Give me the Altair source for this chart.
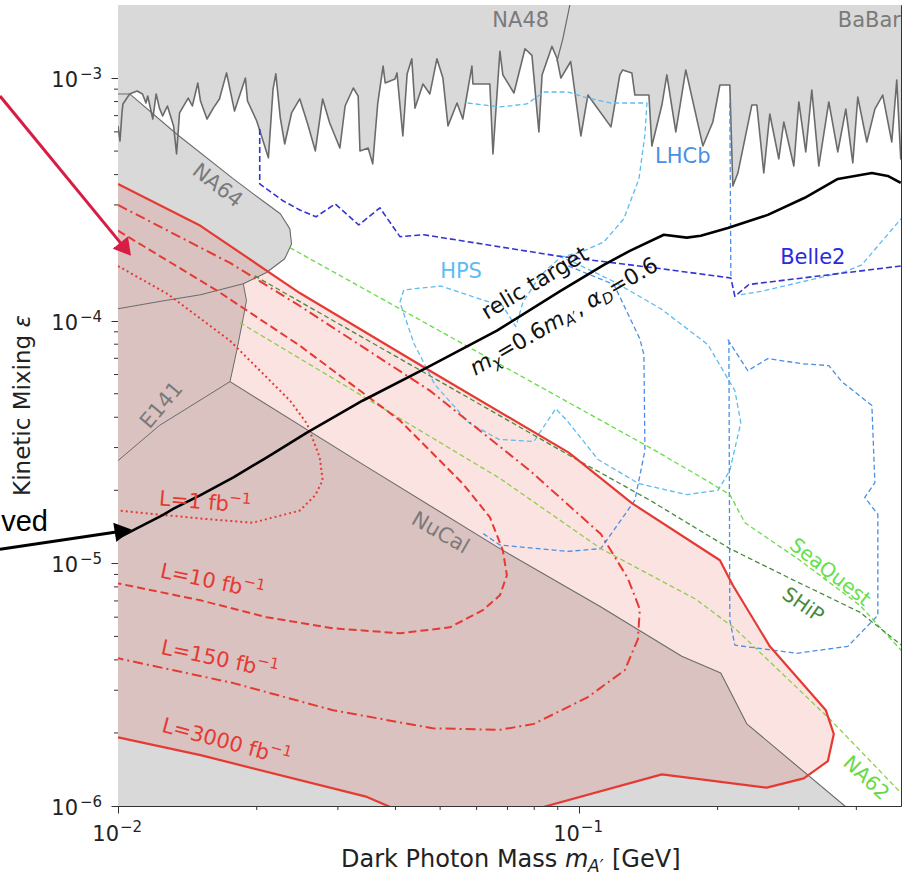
import altair as alt
import pandas as pd

# ---------------- data: (dark photon mass [GeV], kinetic mixing epsilon) ----------------
X_DOMAIN = [0.01, 0.5]
Y_DOMAIN = [1e-6, 2e-3]

babar = [(0.0100,6.35e-4),(0.0101,5.50e-4),(0.0102,7.18e-4),(0.01025,7.82e-4),(0.0106,8.60e-4),(0.0110,8.84e-4),
 (0.0113,8.60e-4),(0.0115,7.89e-4),(0.0116,8.43e-4),(0.0119,6.78e-4),(0.0121,8.60e-4),(0.0123,7.52e-4),(0.0125,6.98e-4),
 (0.0128,7.67e-4),(0.0132,6.35e-4),(0.0134,4.87e-4),(0.0136,7.18e-4),(0.0142,8.27e-4),(0.0145,7.67e-4),(0.0149,9.54e-4),
 (0.0151,8.04e-4),(0.0156,6.78e-4),(0.0161,7.52e-4),(0.0166,8.20e-4),(0.0172,1.05e-3),(0.0179,7.31e-4),(0.0189,1.00e-3),
 (0.0191,8.04e-4),(0.0200,6.65e-4),(0.0212,4.69e-4),(0.0217,9.01e-4),(0.0220,1.04e-3),(0.0225,6.85e-4),(0.0230,5.35e-4),
 (0.0238,7.18e-4),(0.0248,8.20e-4),(0.0258,6.47e-4),(0.0268,5.01e-4),(0.0278,8.20e-4),(0.0288,6.53e-4),(0.0303,5.15e-4),
 (0.0311,7.67e-4),(0.0324,9.10e-4),(0.0332,8.43e-4),(0.0335,5.01e-4),(0.0349,5.15e-4),(0.0357,4.43e-4),(0.0366,7.82e-4),
 (0.0376,1.12e-3),(0.0380,9.54e-4),(0.0399,9.91e-4),(0.0403,1.05e-3),(0.0415,5.77e-4),(0.0424,1.04e-3),(0.0434,1.20e-3),
 (0.0441,7.52e-4),(0.0459,9.45e-4),(0.0475,8.60e-4),(0.0492,1.20e-3),(0.0507,1.00e-3),(0.0520,6.35e-4),(0.0544,7.89e-4),
 (0.0560,6.78e-4),(0.0586,1.12e-3),(0.0589,9.45e-4),(0.0641,9.45e-4),(0.0651,4.87e-4),(0.0674,1.29e-3),(0.0684,1.03e-3),
 (0.0723,8.68e-4),(0.0764,1.32e-3),(0.0791,1.24e-3),(0.0819,6.00e-4),(0.0832,1.03e-3),(0.0874,1.35e-3),(0.0896,1.21e-3),
 (0.0914,1.00e-3),(0.0960,1.17e-3),(0.1010,5.77e-4),(0.1046,8.51e-4),(0.1174,6.29e-4),(0.1227,1.03e-3),(0.1245,1.08e-3),
 (0.1303,1.05e-3),(0.1323,8.51e-4),(0.1419,8.51e-4),(0.1440,5.25e-4),(0.1514,7.74e-4),(0.1552,1.03e-3),(0.1623,6.00e-4),
 (0.1706,1.08e-3),(0.1858,5.25e-4),(0.1953,6.59e-4),(0.2023,9.36e-4),(0.2126,9.36e-4),(0.2158,3.59e-4),(0.2213,4.06e-4),
 (0.2373,7.74e-4),(0.2433,7.74e-4),(0.2519,4.06e-4),(0.2596,7.11e-4),(0.2715,4.64e-4),(0.2784,6.59e-4),(0.2927,4.34e-4),
 (0.3001,7.97e-4),(0.3107,4.96e-4),(0.3202,8.93e-4),(0.3316,4.34e-4),(0.3486,7.97e-4),(0.3646,4.96e-4),(0.3795,7.45e-4),
 (0.3930,4.47e-4),(0.4029,8.35e-4),(0.4215,5.45e-4),(0.4388,7.45e-4),(0.4564,8.51e-4),(0.4775,5.45e-4),(0.4895,9.81e-4),
 (0.4994,4.64e-4),(0.5,5.0e-4)]
top_corners = [(0.5, 2.2e-3), (0.01, 2.2e-3)]

na48 = [(0.0896,1.17e-3),(0.0923,1.45e-3),(0.0956,2.0e-3)]

na64 = [(0.0100,8.60e-4),(0.0106,8.60e-4),(0.0134,5.88e-4),(0.0178,3.84e-4),(0.0206,3.12e-4),(0.0225,2.76e-4),
 (0.0236,2.39e-4),(0.0238,2.07e-4),(0.0230,1.80e-4),(0.0210,1.58e-4),(0.0187,1.42e-4),(0.0151,1.28e-4),(0.0123,1.20e-4),
 (0.0100,1.12e-4)]

e141_edge = [(0.0187,1.42e-4),(0.0190,1.21e-4),(0.0187,1.03e-4),(0.0181,7.52e-5),(0.0175,5.61e-5)]
nucal = [(0.0175,5.61e-5),(0.0335,2.60e-5),(0.0674,1.15e-5),(0.1110,6.65e-6),(0.1672,4.14e-6),(0.2032,3.53e-6),
 (0.2314,2.18e-6),(0.3776,1.0e-6),(0.407,8.76e-7)]
e141_low = [(0.0100,2.65e-5),(0.0123,3.70e-5),(0.0175,5.61e-5)]
lowleft_start = [(0.0100,1.12e-4),(0.0151,1.28e-4)]
lowleft_end = [(0.01,8.76e-7)]

l3000 = [(0.0100,3.66e-4),(0.0151,2.46e-4),(0.0248,1.30e-4),(0.0475,6.22e-5),(0.0951,2.86e-5),(0.1303,1.77e-5),
 (0.2023,1.03e-5),(0.2158,8.12e-6),(0.2596,4.55e-6),(0.3435,2.48e-6),(0.3574,1.98e-6),(0.3469,1.53e-6),(0.3076,1.30e-6),
 (0.2557,1.19e-6),(0.1514,1.35e-6),(0.0852,1.0e-6),(0.0674,8.76e-7),(0.0452,8.76e-7),(0.0347,1.09e-6),(0.0151,1.62e-6),
 (0.0100,1.92e-6)]
l150 = [(0.0100,3.00e-4),(0.0175,1.73e-4),(0.0248,1.15e-4),(0.0475,5.15e-5),(0.0783,2.41e-5),(0.1116,1.32e-5),
 (0.1277,8.68e-6),(0.1356,6.47e-6),(0.1343,4.87e-6),(0.1258,3.63e-6),(0.1046,2.81e-6),(0.0799,2.18e-6),(0.0674,2.06e-6),
 (0.0482,2.09e-6),(0.0293,2.48e-6),(0.0178,3.21e-6),(0.0100,4.06e-6)]
l10 = [(0.0100,2.35e-4),(0.0164,1.33e-4),(0.0248,7.89e-5),(0.0409,3.88e-5),(0.0560,2.13e-5),(0.0641,1.55e-5),
 (0.0684,1.13e-5),(0.0698,8.93e-6),(0.0674,7.38e-6),(0.0619,6.41e-6),(0.0525,5.45e-6),(0.0409,5.15e-6),(0.0293,5.40e-6),
 (0.0210,6.00e-6),(0.0151,7.04e-6),(0.0100,8.27e-6)]
l1 = [(0.0100,1.68e-4),(0.0128,1.29e-4),(0.0175,8.27e-5),(0.0236,4.69e-5),(0.0257,3.77e-5),(0.0274,2.73e-5),
 (0.0278,2.20e-5),(0.0268,1.91e-5),(0.0248,1.65e-5),(0.0196,1.47e-5),(0.0151,1.53e-5),(0.0100,1.65e-5)]

seaquest = [(0.0236,2.00e-4),(0.0580,7.74e-5),(0.1426,3.00e-5),(0.1830,2.28e-5),(0.2126,1.92e-5),(0.2292,1.47e-5),
 (0.3016,1.03e-5),(0.4070,6.72e-6),(0.505,4.30e-6)]
ship = [(0.0198,1.53e-4),(0.0946,2.81e-5),(0.1426,1.82e-5),(0.2126,1.15e-5),(0.2869,8.68e-6),(0.4070,6.29e-6),
 (0.505,4.55e-6)]
na62 = [(0.0184,9.81e-5),(0.0674,2.24e-5),(0.1116,1.15e-5),(0.1794,7.11e-6),(0.2191,5.35e-6),(0.352,2.26e-6),
 (0.505,1.11e-6)]

belle2 = [(0.0203,6.17e-4),(0.0203,3.66e-4),(0.0228,3.12e-4),(0.0248,2.86e-4),(0.0269,2.68e-4),(0.0296,3.03e-4),
 (0.0333,2.48e-4),(0.0370,2.92e-4),(0.0409,2.22e-4),(0.0461,2.26e-4),(0.0896,1.85e-4),(0.1499,1.64e-4),(0.2137,1.50e-4),
 (0.2180,1.26e-4),(0.2338,1.41e-4),(0.4994,1.68e-4)]

hps = [(0.0574,7.89e-4),(0.0674,7.60e-4),(0.0771,7.82e-4),(0.0840,8.76e-4),(0.0946,8.76e-4),(0.1046,8.27e-4),
 (0.1174,7.89e-4),(0.1405,7.89e-4),(0.1391,5.83e-4),(0.1350,3.84e-4),(0.1252,2.63e-4),(0.1133,2.11e-4),(0.1005,1.91e-4),
 (0.0914,1.83e-4),(0.0823,1.53e-4),(0.0756,1.19e-4),(0.0730,9.45e-5),(0.0684,1.15e-4),(0.0616,1.22e-4),(0.0502,1.39e-4),
 (0.0417,1.34e-4),(0.0409,1.19e-4),(0.0439,8.04e-5),(0.0487,5.45e-5),(0.0577,3.80e-5),(0.0671,3.24e-5),(0.0799,3.18e-5),
 (0.0891,4.34e-5),(0.0942,3.88e-5),(0.1100,2.68e-5),(0.1350,2.13e-5),(0.1715,1.92e-5),(0.2003,2.00e-5),(0.2126,2.41e-5),
 (0.2246,3.80e-5),(0.2180,5.15e-5),(0.1905,7.97e-5),(0.1506,1.12e-4),(0.1191,1.45e-4),(0.0980,1.73e-4),(0.0914,1.83e-4)]
hps_right = [(0.2246,1.28e-4),(0.2482,1.32e-4),(0.3776,1.59e-4),(0.4111,1.70e-4),(0.502,2.65e-4)]

lhcb_top = [(0.2126,7.89e-4),(0.2137,1.49e-4)]
lhcb_mid = [(0.0914,1.73e-4),(0.1191,1.41e-4),(0.1356,8.43e-5),(0.1384,7.24e-5),(0.1391,2.92e-5),(0.1323,1.82e-5),
 (0.1116,1.15e-5),(0.0946,1.12e-5),(0.0674,1.19e-5),(0.0619,1.33e-5)]
lhcb_right = [(0.2105,8.35e-5),(0.2326,6.22e-5),(0.2570,6.98e-5),(0.3046,6.65e-5),(0.3486,6.53e-5),(0.3719,5.61e-5),
 (0.4323,4.47e-5),(0.4388,2.15e-5),(0.4173,1.87e-5),(0.4454,1.59e-5),(0.4454,6.11e-6),(0.3833,4.55e-6),(0.2971,4.26e-6),
 (0.2180,4.60e-6),(0.2126,5.83e-6),(0.2116,8.35e-5)]

relic = [(0.0100,1.27e-5),(0.0108,1.37e-5),(0.0125,1.58e-5),(0.0132,1.68e-5),(0.0151,1.91e-5),(0.0178,2.26e-5),
 (0.0210,2.73e-5),(0.0257,3.46e-5),(0.0340,4.69e-5),(0.0468,6.41e-5),(0.0664,9.10e-5),(0.0909,1.32e-4),(0.1133,1.70e-4),
 (0.1290,1.94e-4),(0.1529,2.26e-4),(0.1715,2.20e-4),(0.1839,2.24e-4),(0.2105,2.41e-4),(0.2570,2.73e-4),(0.3091,3.21e-4),
 (0.3646,3.84e-4),(0.4323,4.06e-4),(0.4680,3.95e-4),(0.4994,3.70e-4)]

label_text = ["NA48", "BaBar", "NA64", "E141", "NuCal", "HPS", "LHCb", "Belle2", "relic target",
              "SeaQuest", "SHiP", "NA62"]
label_m = [0.0748, 0.3646, 0.0164, 0.01246, 0.0500, 0.0555, 0.1681, 0.3218, 0.0803,
           0.3504, 0.3062, 0.4194]
label_e = [1.72e-3, 1.72e-3, 3.59e-4, 4.47e-5, 1.33e-5, 1.58e-4, 4.73e-4, 1.82e-4, 1.43e-4,
           9.18e-6, 6.72e-6, 1.30e-6]

# multi-part labels (main text, subscript/superscript pieces)
relic_formula = ("relic", 0.0928, 1.04e-4,
                 [("m", "i", 0), ("χ", "i", 1), ("=0.6", "n", 0), ("m", "i", 0), ("A′", "i", 1),
                  (", ", "n", 0), ("α", "i", 0), ("D", "i", 1), ("=0.6", "n", 0)])
lumi_labels = [("L=1 fb", "−1", 0.01544, 1.77e-5), ("L=10 fb", "−1", 0.0160, 8.35e-6),
               ("L=150 fb", "−1", 0.0166, 3.99e-6), ("L=3000 fb", "−1", 0.01716, 1.82e-6)]

red_arrow = [(0.005546, 8.43e-4), (0.01039, 1.972e-4)]
black_arrow = [(0.005546, 1.142e-5), (0.01026, 1.360e-5)]
side_text = ("ved", 0.00558, 1.354e-5)

x_major = [0.01, 0.1]
x_exp = ["−2", "−1"]
x_minor = [0.02, 0.03, 0.04, 0.05, 0.06, 0.07, 0.08, 0.09, 0.2, 0.3, 0.4]
y_major = [1e-6, 1e-5, 1e-4, 1e-3]
y_exp = ["−6", "−5", "−4", "−3"]
y_minor = [2e-6, 3e-6, 4e-6, 5e-6, 6e-6, 7e-6, 8e-6, 9e-6, 2e-5, 3e-5, 4e-5, 5e-5, 6e-5, 7e-5, 8e-5, 9e-5,
           2e-4, 3e-4, 4e-4, 5e-4, 6e-4, 7e-4, 8e-4, 9e-4]
x_title_parts = ["Dark Photon Mass", "m", "A′", "[GeV]"]
y_title_parts = ["Kinetic Mixing", "ε"]

# ---------------- styling ----------------
W, H = 783, 801
FONT = "DejaVu Sans"
GRAY_FILL = "#d9d9d9"
GRAY_LINE = "#6b6b6b"
GRAY_TEXT = "#7a7a7a"
RED = "#e53a33"
LBLUE = "#5cbcf0"
MBLUE = "#4a8fe3"
BELLE = "#3434d4"
INK = "#222222"

# approximate DejaVu Sans advance widths (em) used to lay out multi-part labels
GLYPH_W = {"L": .557, "=": .838, "0": .636, "1": .636, "3": .636, "5": .636, "6": .636, " ": .318,
           "f": .352, "b": .635, ".": .318, ",": .318, "m": .974, "χ": .59, "A": .684, "′": .28,
           "α": .659, "D": .770, "−": .838, "K": .656, "i": .278, "n": .634, "e": .615, "t": .392,
           "c": .550, "M": .863, "x": .592, "g": .635, "ε": .541}


def text_w(s, size):
    return sum(GLYPH_W.get(c, 0.6) for c in s) * size


xs = alt.Scale(type="log", domain=X_DOMAIN, nice=False)
ys = alt.Scale(type="log", domain=Y_DOMAIN, nice=False)

x_axis = alt.Axis(values=x_major, labels=False, tickSize=7, tickColor="#333", grid=False,
                  domainColor="#333", title="")
y_axis = alt.Axis(values=y_major, labels=False, tickSize=7, tickColor="#333", grid=False,
                  domainColor="#333", title="")

XE = alt.X("m:Q", scale=xs, axis=x_axis)
YE = alt.Y("e:Q", scale=ys, axis=y_axis)


def frame(points):
    return pd.DataFrame({"m": [p[0] for p in points], "e": [p[1] for p in points],
                         "i": list(range(len(points)))})


def enc(ch):
    return ch.encode(x=XE, y=YE, order=alt.Order("i:Q"))


def polygon(points, color, opacity=1.0):
    return enc(alt.Chart(frame(points)).mark_line(fill=color, fillOpacity=opacity,
                                                  strokeOpacity=0, strokeWidth=0, clip=True))


def curve(points, color, width=1.5, dash=None, clip=True):
    kw = dict(color=color, strokeWidth=width, clip=clip, strokeJoin="round")
    if dash:
        kw["strokeDash"] = dash
    return enc(alt.Chart(frame(points)).mark_line(**kw))


label_style = {
    "NA48": dict(color=GRAY_TEXT, size=21, angle=0),
    "BaBar": dict(color=GRAY_TEXT, size=21, angle=0, align="left"),
    "NA64": dict(color=GRAY_TEXT, size=21, angle=38),
    "E141": dict(color=GRAY_TEXT, size=21, angle=310),
    "NuCal": dict(color=GRAY_TEXT, size=21, angle=30),
    "HPS": dict(color=LBLUE, size=21, angle=0),
    "LHCb": dict(color=MBLUE, size=21, angle=0),
    "Belle2": dict(color="#2a2ae0", size=21, angle=0),
    "relic target": dict(color="#111111", size=22, angle=329),
    "SeaQuest": dict(color="#66e04a", size=20, angle=38),
    "SHiP": dict(color="#4a8a3c", size=20, angle=35),
    "NA62": dict(color="#66d84a", size=20, angle=43),
}


def text_layer(t, m, e):
    st = label_style[t]
    kw = dict(color=st["color"], fontSize=st["size"], angle=st["angle"], font=FONT,
              align=st.get("align", "center"), baseline="middle")
    return alt.Chart(pd.DataFrame({"m": [m], "e": [e], "t": [t]})).mark_text(**kw).encode(
        x=XE, y=YE, text="t:N")


def pieces_layers(pieces, x_enc, y_enc, src, angle, color, size, small):
    """pieces: list of (text, style, shift) where shift 1 = subscript, -1 = superscript."""
    widths = [text_w(t, small if s != 0 else size) for t, _, s in pieces]
    start = -sum(widths) / 2
    out = []
    for (t, sty, s), w in zip(pieces, widths):
        fs = small if s != 0 else size
        dyv = 0 if s == 0 else (6 if s > 0 else -8)
        out.append(alt.Chart(src).mark_text(
            text=t, align="left", baseline="middle", fontSize=fs, font=FONT, color=color,
            fontStyle="italic" if sty == "i" else "normal", angle=angle, dx=start, dy=dyv
        ).encode(x=x_enc, y=y_enc))
        start += w
    return out


# ---------------- layers ----------------
layers = [alt.Chart(frame([(0.01, 1e-6), (0.5, 2e-3)])).mark_point(opacity=0).encode(x=XE, y=YE)]
# gray excluded regions
layers.append(polygon(babar + top_corners, GRAY_FILL))
layers.append(polygon(na64, GRAY_FILL))
layers.append(polygon(lowleft_start + e141_edge + nucal + lowleft_end, GRAY_FILL))
# red projected region (L = 3000 fb^-1)
layers.append(polygon(l3000, RED, 0.14))
# gray boundaries
layers.append(curve(babar, GRAY_LINE, 1.6))
layers.append(curve(na48, GRAY_LINE, 1.2))
layers.append(curve(na64, GRAY_LINE, 1.1))
layers.append(curve(e141_edge, GRAY_LINE, 1.0))
layers.append(curve(e141_low, GRAY_LINE, 1.0))
layers.append(curve(nucal, GRAY_LINE, 1.1))
# projections of other experiments
layers.append(curve(hps, LBLUE, 1.3, [5, 3]))
layers.append(curve(hps_right, LBLUE, 1.3, [5, 3]))
layers.append(curve(lhcb_top, MBLUE, 1.3, [5, 3]))
layers.append(curve(lhcb_mid, MBLUE, 1.3, [5, 3]))
layers.append(curve(lhcb_right, MBLUE, 1.3, [5, 3]))
layers.append(curve(belle2, BELLE, 1.6, [6, 3]))
layers.append(curve(seaquest, "#66dd44", 1.3, [5, 3]))
layers.append(curve(ship, "#4a8a3c", 1.3, [5, 3]))
layers.append(curve(na62, "#8fcc50", 1.3, [5, 3]))
# red luminosity contours
layers.append(curve(l1, RED, 2.0, [2, 3]))
layers.append(curve(l10, RED, 2.0, [8, 4]))
layers.append(curve(l150, RED, 2.0, [10, 4, 2, 4]))
layers.append(curve(l3000, RED, 2.2))
# relic target
layers.append(curve(relic, "#000000", 2.6))
# labels
for t, m, e in zip(label_text, label_m, label_e):
    layers.append(text_layer(t, m, e))
_, fm, fe, fpieces = relic_formula
layers += pieces_layers(fpieces, XE, YE, pd.DataFrame({"m": [fm], "e": [fe]}), 330, "#111111", 22, 15)
angles = [5, 12, 12, 15]
for (main, sup, lm, le), ang in zip(lumi_labels, angles):
    layers += pieces_layers([(main, "n", 0), (sup, "n", -1)], XE, YE,
                            pd.DataFrame({"m": [lm], "e": [le]}), ang, RED, 21, 15)

# minor ticks
layers.append(alt.Chart(pd.DataFrame({"m": x_minor})).mark_rule(color="#333", strokeWidth=1).encode(
    x=XE, y=alt.value(H), y2=alt.value(H + 4)))
layers.append(alt.Chart(pd.DataFrame({"e": y_minor})).mark_rule(color="#333", strokeWidth=1).encode(
    y=YE, x=alt.value(0), x2=alt.value(-4)))

# tick labels written as 10 with a raised exponent
ylab = pd.DataFrame({"e": y_major, "p": y_exp})
layers.append(alt.Chart(ylab).mark_text(text="10", align="right", baseline="middle", fontSize=21,
                                        font=FONT, color=INK, dy=3).encode(y=YE, x=alt.value(-40)))
layers.append(alt.Chart(ylab).mark_text(align="left", baseline="middle", fontSize=15, font=FONT,
                                        color=INK, dy=-4).encode(y=YE, x=alt.value(-38), text="p:N"))
xlab = pd.DataFrame({"m": x_major, "p": x_exp})
layers.append(alt.Chart(xlab).mark_text(text="10", align="right", baseline="middle", fontSize=21,
                                        font=FONT, color=INK, dx=1).encode(x=XE, y=alt.value(H + 29)))
layers.append(alt.Chart(xlab).mark_text(align="left", baseline="middle", fontSize=15, font=FONT,
                                        color=INK, dx=2).encode(x=XE, y=alt.value(H + 21), text="p:N"))

# x-axis title with subscript
TX = 223
title_specs = [
    (x_title_parts[0], TX, 0, 24, "normal"),
    (x_title_parts[1], TX + 224, 0, 24, "italic"),
    (x_title_parts[2], TX + 247, 5, 17, "italic"),
    (x_title_parts[3], TX + 271, 0, 24, "normal"),
]
for txt, px, dyv, fs, sty in title_specs:
    layers.append(alt.Chart(pd.DataFrame({"t": [txt]})).mark_text(
        align="left", baseline="alphabetic", fontSize=fs, font=FONT, fontStyle=sty, color=INK, dy=dyv
    ).encode(x=alt.value(px), y=alt.value(H + 61), text="t:N"))

# y-axis title (rotated), italic epsilon
ytitle_src = pd.DataFrame({"k": [0]})
layers += pieces_layers([(y_title_parts[0] + " ", "n", 0), (y_title_parts[1], "i", 0)],
                        alt.value(-95), alt.value(H / 2), ytitle_src, 270, INK, 23, 23)

# annotation arrows outside the frame
layers.append(curve(red_arrow, "#d81d45", 3.0, clip=False))
layers.append(alt.Chart(frame(red_arrow[1:])).mark_point(
    shape="triangle-right", filled=True, size=380, angle=51, color="#d81d45", opacity=1).encode(x=XE, y=YE))
layers.append(curve(black_arrow, "#000000", 3.0, clip=False))
layers.append(alt.Chart(frame(black_arrow[1:])).mark_point(
    shape="triangle-right", filled=True, size=380, angle=351, color="#000000", opacity=1).encode(x=XE, y=YE))
layers.append(alt.Chart(pd.DataFrame({"m": [side_text[1]], "e": [side_text[2]], "t": [side_text[0]]})).mark_text(
    font="Liberation Sans", fontSize=29, color="#000000", align="left", baseline="alphabetic").encode(
    x=XE, y=YE, text="t:N"))

chart = alt.layer(*layers).properties(
    width=W, height=H,
    autosize=alt.AutoSizeParams(type="none"),
    padding={"left": 118, "top": 5, "right": 8, "bottom": 74},
    background="white",
).configure_view(stroke="#333", strokeWidth=1)

chart.save("out.html", embed_options={"renderer": "svg", "actions": False})
